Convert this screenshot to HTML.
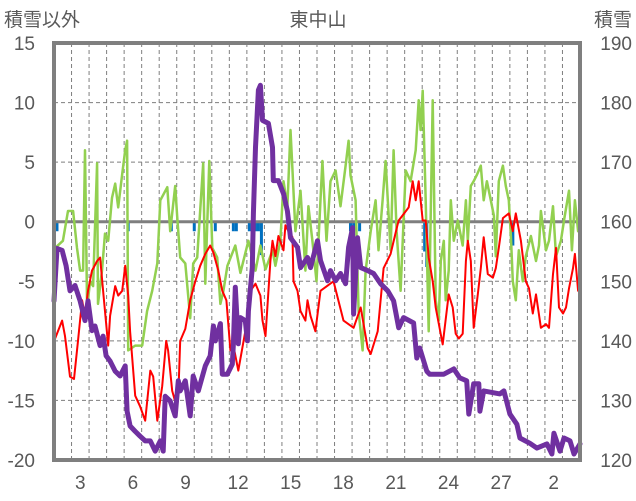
<!DOCTYPE html>
<html><head><meta charset="utf-8">
<style>
html,body{margin:0;padding:0;background:#fff;}
svg{display:block;}
text{font-family:"Liberation Sans","Noto Sans CJK JP",sans-serif;fill:#595959;}
</style></head>
<body>
<svg id="chart" width="636" height="501" viewBox="0 0 636 501" xmlns="http://www.w3.org/2000/svg">
<text x="4" y="26" font-size="19">積雪以外</text>
<text x="318" y="26" font-size="19" text-anchor="middle">東中山</text>
<text x="632" y="26" font-size="19" text-anchor="end">積雪</text>
<g id="grid"></g>
<g id="axes"></g>
<g id="series"></g>
</svg>
<script>
// ---- data ----
const leftTicks = [15,10,5,0,-5,-10,-15,-20];
const rightTicks = [190,180,170,160,150,140,130,120];
const dayLabels = ["3","6","9","12","15","18","21","24","27","2"];
const dayLabelSlots = [1,4,7,10,13,16,19,22,25,28];
const daySlots = 30;

const greenT = [.06,.51,.8,1.09,1.31,1.49,1.66,1.77,1.89,2.06,2.23,2.46,2.51,2.74,2.91,3.09,3.31,3.49,3.66,3.89,4.06,4.17,4.23,4.63,5.03,5.31,5.6,5.89,6.06,6.46,6.63,6.91,7.03,7.2,7.49,7.77,7.94,8.17,8.51,8.63,8.86,9.03,9.31,9.49,9.66,9.89,10.34,10.63,11.09,11.49,11.77,12.06,12.46,12.63,12.91,13.09,13.31,13.49,13.6,13.77,14.06,14.34,14.51,14.74,14.97,15.31,15.54,15.77,16.06,16.34,16.63,16.8,16.91,17.2,17.37,17.6,17.77,18.06,18.34,18.51,18.74,18.91,19.2,19.37,19.54,19.77,20.06,20.34,20.63,20.8,20.91,21.03,21.2,21.37,21.6,21.77,21.94,22.06,22.23,22.34,22.51,22.63,22.8,23.03,23.31,23.49,23.6,23.77,23.94,24.11,24.34,24.51,24.69,24.91,25.09,25.2,25.37,25.6,25.77,25.94,26.06,26.17,26.34,26.51,26.74,26.91,27.2,27.49,27.66,27.77,28.06,28.23,28.46,28.63,28.91,29.09,29.37,29.54,29.71,29.89];
const greenV = [-2.2,-1.6,0.9,0.9,-2.2,-4.1,-4.1,6.0,-7.2,-5.0,-5.4,4.9,-6.9,-4.1,-1.0,-1.6,2.0,3.2,1.2,4.0,6.0,6.8,-10.8,-10.4,-10.4,-7.5,-5.8,-3.5,1.8,2.9,-0.8,3.0,0.3,-3.0,-3.5,-8.1,-3.5,-3.0,4.9,-5.2,5.1,-2.2,-3.0,-6.9,-5.8,-3.7,-2.0,-4.3,-1.6,-4.1,-2.0,-4.0,-2.4,-3.7,-1.6,3.4,1.3,7.7,4.3,-0.8,2.6,-4.1,1.3,-1.6,-5.0,5.1,-1.6,3.4,4.3,1.3,4.7,6.8,3.9,1.8,-7.5,-10.8,-4.1,-0.8,1.8,-2.4,1.8,5.1,-2.4,6.0,-0.8,-5.8,4.3,3.4,6.0,10.2,7.7,11.0,1.8,-9.2,10.2,-6.6,-8.3,-3.3,-1.6,-6.6,-4.1,1.8,-1.6,0.1,-2.0,1.8,-1.6,3.0,3.4,3.9,4.7,1.8,3.4,1.8,0.5,-2.9,3.4,4.7,3.0,1.8,-1.2,-5.0,-6.6,-2.4,-5.0,-2.9,-1.2,-3.3,-2.0,0.9,-2.4,-1.6,1.3,-2.9,-1.6,0.1,2.6,-2.4,1.8,-0.8];

const redT = [.06,.46,.63,.91,1.14,1.37,1.6,1.77,1.94,2.17,2.46,2.63,2.8,3.09,3.2,3.49,3.66,3.89,4.06,4.23,4.34,4.63,4.91,5.2,5.49,5.66,5.89,6.17,6.4,6.51,6.74,6.91,7.09,7.2,7.49,7.77,8.06,8.34,8.63,8.91,9.09,9.37,9.6,9.83,10.06,10.23,10.51,10.91,11.2,11.49,11.77,11.89,12.06,12.34,12.46,12.63,12.8,13.09,13.2,13.37,13.6,13.66,13.89,14.06,14.34,14.46,14.63,14.91,15.2,15.94,16.51,17.09,17.49,17.89,18.06,18.46,18.8,19.2,19.6,19.66,20.23,20.46,20.63,20.8,21.03,21.2,21.37,21.6,21.77,22.17,22.51,22.74,22.91,23.09,23.31,23.49,23.6,23.77,23.94,24.17,24.34,24.51,24.74,25.03,25.2,25.37,25.6,25.94,26.17,26.34,26.63,26.91,27.09,27.31,27.49,27.77,28.06,28.23,28.46,28.63,28.8,29.03,29.2,29.37,29.6,29.71,29.89];
const redV = [-9.8,-8.3,-9.6,-13.0,-13.2,-10.0,-6.6,-7.9,-5.8,-4.1,-3.3,-3.0,-5.8,-10.4,-7.9,-5.4,-6.2,-5.8,-3.7,-6.2,-9.2,-14.6,-15.5,-16.7,-12.5,-13.0,-16.7,-13.8,-10.0,-10.8,-14.2,-15.1,-14.6,-10.0,-9.0,-6.6,-5.0,-3.7,-2.7,-2.0,-2.6,-4.1,-5.8,-6.6,-10.8,-10.4,-12.5,-9.2,-5.8,-5.2,-6.2,-8.3,-9.6,-3.3,-1.6,-2.9,-1.2,-2.4,-0.3,-0.8,-1.3,-5.0,-5.8,-7.5,-8.3,-6.6,-7.9,-9.2,-5.8,-5.0,-8.3,-8.9,-7.2,-10.6,-11.1,-9.2,-3.9,-2.7,-0.2,0.1,1.2,3.4,1.8,3.4,0.1,0.1,-3.0,-5.0,-7.2,-10.3,-6.1,-7.2,-9.4,-9.8,-9.4,-3.3,-1.6,-3.3,-8.9,-6.1,-3.9,-1.3,-4.4,-4.7,-3.9,-2.2,0.3,0.7,-0.8,0.7,-1.6,-5.0,-5.6,-7.7,-6.1,-8.9,-8.6,-8.9,-4.4,-2.2,-7.2,-7.7,-7.2,-5.6,-3.9,-2.7,-5.8];

const snowT = [0,.17,.46,.69,.91,1.2,1.49,1.77,1.94,2.17,2.34,2.63,2.8,2.97,3.2,3.49,3.77,4.06,4.17,4.34,4.63,4.91,5.2,5.49,5.77,6.06,6.23,6.34,6.63,6.91,7.09,7.2,7.49,7.77,7.94,8.23,8.63,8.91,9.09,9.2,9.49,9.6,9.89,10.17,10.23,10.34,10.51,10.63,10.91,11.03,11.09,11.31,11.37,11.49,11.66,11.77,11.89,12.23,12.46,12.51,12.8,13.09,13.31,13.49,13.89,14.06,14.46,14.63,15.03,15.2,15.6,15.77,16.06,16.34,16.63,16.8,17.03,17.09,17.31,17.49,17.89,18.23,18.63,19.03,19.37,19.66,19.94,20.51,20.69,20.86,21.26,21.43,22.23,22.8,23.14,23.54,23.66,23.94,24.23,24.29,24.51,25.43,25.66,26.0,26.4,26.57,27.14,27.54,28.11,28.4,28.51,28.86,29.09,29.43,29.66,30.0];
const snowV = [146.7,155.5,155.2,152.6,148.4,149.3,146.7,143.4,146.7,141.7,142.5,139.2,140.8,137.5,136.6,134.9,134.1,135.8,128.2,125.7,124.8,124.0,123.2,123.2,121.5,123.2,121.5,130.7,129.9,127.4,133.3,131.6,133.3,127.4,134.1,131.6,135.8,137.5,142.5,140.0,142.9,134.4,134.4,136.1,139.5,149.0,139.5,143.9,143.4,140.0,145.0,152.3,161.4,172.5,182.1,182.9,177.0,176.5,172.5,166.9,166.9,164.7,161.8,157.3,155.7,152.3,154.0,152.3,156.8,153.5,150.1,151.8,150.1,151.3,149.6,155.7,159.0,144.5,157.3,152.3,151.8,151.3,149.6,148.4,146.7,142.2,143.9,143.0,137.1,138.8,134.9,134.4,134.4,135.3,133.8,133.3,127.7,132.8,132.8,128.2,131.6,131.1,131.6,127.7,126.0,123.7,122.8,122.0,122.7,121.0,124.5,121.5,123.7,123.2,121.0,122.7];

const blueT = [.17,4.23,6.69,8.0,9.2,10.23,10.4,11.14,11.31,11.49,11.66,11.83,16.91,17.09,17.43,21.14,21.26,26.17];
const blueV = [-0.8,-0.8,-0.8,-0.8,-0.8,-0.8,-0.8,-0.8,-0.8,-0.8,-0.8,-2.8,-0.8,-0.8,-0.8,-2.5,-3.8,-2.0];

// ---- layout ----
const PL=54, PR=580, PT=43, PB=460;
const NS="http://www.w3.org/2000/svg";
function xS(t){return PL+(PR-PL)*t/daySlots;}
function yL(v){return PT+(PB-PT)*(15-v)/35;}
function yR(v){return PT+(PB-PT)*(190-v)/70;}
function mk(tag,attrs,parent){const e=document.createElementNS(NS,tag);for(const k in attrs)e.setAttribute(k,attrs[k]);parent.appendChild(e);return e;}
const grid=document.getElementById('grid'), axes=document.getElementById('axes'), ser=document.getElementById('series');

for(let i=1;i<daySlots;i++){
  const l=mk('line',{x1:xS(i),x2:xS(i),y1:PT,y2:PB,stroke:'#7f7f7f','stroke-width':1,'stroke-dasharray':'4,3'},grid);
  
  
}
leftTicks.forEach(v=>{
  if(v!==15&&v!==-20&&v!==0){
    const l=mk('line',{x1:PL,x2:PR,y1:yL(v),y2:yL(v),stroke:'#7f7f7f','stroke-width':1,'stroke-dasharray':'4,3'},grid);
    
    
  }
  const t=mk('text',{x:35,y:yL(v)+7,'font-size':19,'text-anchor':'end'},axes);
  t.textContent=v;
  
  
});
rightTicks.forEach(v=>{
  const t=mk('text',{x:632,y:yR(v)+7,'font-size':19,'text-anchor':'end'},axes);
  t.textContent=v;
  
  
});
dayLabels.forEach((s,i)=>{
  const t=mk('text',{x:xS(dayLabelSlots[i]+0.5),y:489,'font-size':19,'text-anchor':'middle'},axes);
  t.textContent=s;
  
  
});

// blue bars
blueT.forEach((t,i)=>{
  const y0=yL(0), y1=yL(blueV[i]);
  const r=mk('rect',{x:xS(t)-1.5,y:Math.min(y0,y1),width:3,height:Math.abs(y1-y0),fill:'#0070c0'},ser);
  
  
});
function poly(T,V,yf,color,w,name){
  const pts=T.map((t,i)=>xS(t).toFixed(1)+','+yf(V[i]).toFixed(1)).join(' ');
  const p=mk('polyline',{points:pts,fill:'none',stroke:color,'stroke-width':w,'stroke-linejoin':'round','stroke-linecap':'round'},ser);
  
  
}
// zero line
const z=mk('line',{x1:PL,x2:PR,y1:yL(0),y2:yL(0),stroke:'#7f7f7f','stroke-width':3},ser);


poly(greenT,greenV,yL,'#92d050',2.5,'green-series-line');
poly(redT,redV,yL,'#ff0000',2,'red-series-line');
poly(snowT,snowV,yR,'#7030a0',5,'snow-depth-line');
const b=mk('rect',{x:PL,y:PT,width:PR-PL,height:PB-PT,fill:'none',stroke:'#7f7f7f','stroke-width':4},ser);


</script>
</body></html>
